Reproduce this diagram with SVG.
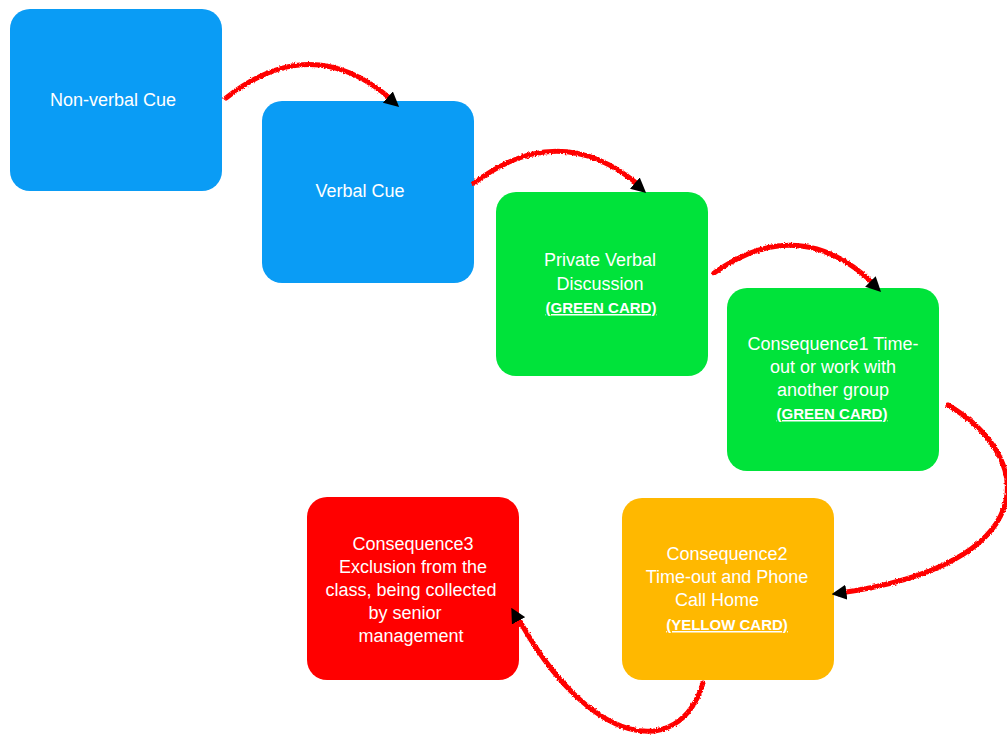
<svg xmlns="http://www.w3.org/2000/svg" width="1007" height="735" viewBox="0 0 1007 735">
<style>
.box{stroke:none}
.t{font-family:"Liberation Sans",Arial,sans-serif;font-size:18px;fill:#fff;text-anchor:middle}
.c{font-size:15px;font-weight:bold;text-decoration:underline}
.conn{fill:none;stroke:#ff0000;stroke-width:5;stroke-linecap:round;filter:url(#rough)}
.tip{fill:none;stroke:none;stroke-width:5}
</style>
<defs>
<filter id="rough" x="-10%" y="-10%" width="120%" height="120%">
<feTurbulence type="fractalNoise" baseFrequency="0.6" numOctaves="2" seed="3" result="n"/>
<feDisplacementMap in="SourceGraphic" in2="n" scale="3" xChannelSelector="R" yChannelSelector="G"/>
</filter>
<marker id="ah" viewBox="0 0 10 10" refX="9" refY="5" markerWidth="3" markerHeight="3" markerUnits="strokeWidth" orient="auto">
<path d="M0,0 L10,5 L0,10 z" fill="#000"/>
</marker>
</defs>
<rect width="1007" height="735" fill="#fff"/>
<g id="n1"><rect class="box" x="10" y="9" width="212" height="182" rx="20" fill="#0a9cf5"/>
<text class="t" x="113" y="106">Non-verbal Cue</text></g>
<g id="n2"><rect class="box" x="262" y="101" width="212" height="182" rx="20" fill="#0a9cf5"/>
<text class="t" x="360" y="197">Verbal Cue</text></g>
<g id="n3"><rect class="box" x="496" y="192" width="212" height="184" rx="20" fill="#00e33a"/>
<text class="t" x="600" y="266">Private Verbal</text>
<text class="t" x="600" y="290">Discussion</text>
<text class="t c" x="601" y="313">(GREEN CARD)</text></g>
<g id="n4"><rect class="box" x="727" y="288" width="212" height="183" rx="20" fill="#00e33a"/>
<text class="t" x="833" y="350">Consequence1 Time-</text>
<text class="t" x="833" y="373">out or work with</text>
<text class="t" x="833" y="396">another group</text>
<text class="t c" x="832" y="419">(GREEN CARD)</text></g>
<g id="n5"><rect class="box" x="622" y="498" width="212" height="182" rx="20" fill="#ffb800"/>
<text class="t" x="727" y="560">Consequence2</text>
<text class="t" x="727" y="583">Time-out and Phone</text>
<text class="t" x="717" y="606">Call Home</text>
<text class="t c" x="727" y="630">(YELLOW CARD)</text></g>
<g id="n6"><rect class="box" x="307" y="497" width="212" height="183" rx="20" fill="#ff0000"/>
<text class="t" x="413" y="550">Consequence3</text>
<text class="t" x="413" y="573">Exclusion from the</text>
<text class="t" x="411" y="596">class, being collected</text>
<text class="t" x="405" y="619">by senior</text>
<text class="t" x="411" y="642">management</text></g>
<g id="connectors">
<path class="conn" d="M226,98 Q312,30 392,100"/>
<path class="conn" d="M474,183 Q560,118 640,186"/>
<path class="conn" d="M714,273 Q800,212 875,285"/>
<path class="conn" d="M948,405 C1040,460 1040,565 840,593"/>
<path class="conn" d="M703,683 C680,760 590,750 517,616"/>
<path class="tip" d="M226,98 Q312,30 398,106" marker-end="url(#ah)"/>
<path class="tip" d="M474,183 Q560,118 645,192" marker-end="url(#ah)"/>
<path class="tip" d="M714,273 Q800,212 880,291" marker-end="url(#ah)"/>
<path class="tip" d="M948,405 C1040,460 1040,565 833,594" marker-end="url(#ah)"/>
<path class="tip" d="M703,683 C680,760 590,750 512,609" marker-end="url(#ah)"/>
</g>
</svg>
